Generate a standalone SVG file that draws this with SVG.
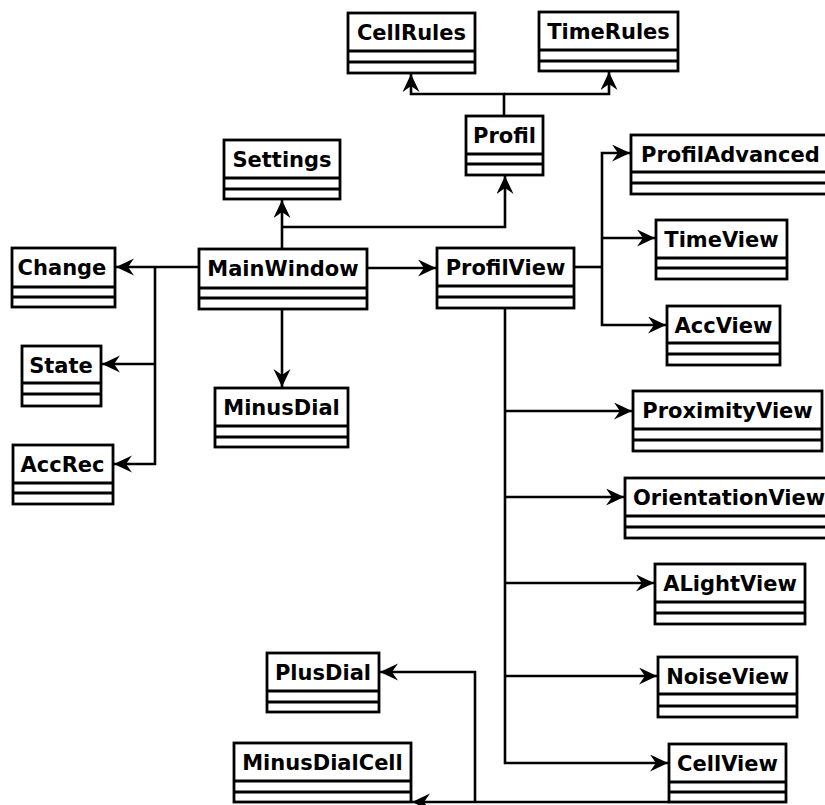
<svg xmlns="http://www.w3.org/2000/svg" width="825" height="805" viewBox="0 0 825 805">
<style>
.box{fill:#fff;stroke:#000;stroke-width:2.8}
.div{stroke:#000;stroke-width:2.8}
.lbl{font-family:"DejaVu Sans",sans-serif;font-weight:bold;font-size:21px;fill:#000;text-anchor:middle}
.lbs{font-family:"DejaVu Sans",sans-serif;font-weight:bold;font-size:21px;fill:#000;text-anchor:start}
.c{fill:none;stroke:#000;stroke-width:2.6}
.a{marker-end:url(#arr)}
</style>
<defs>
<marker id="arr" markerUnits="userSpaceOnUse" markerWidth="20" markerHeight="18" refX="18" refY="8.5" orient="auto">
<path d="M0,0 L18,8.5 L0,17 L6,8.5 z" fill="#000"/>
</marker>
</defs>
<rect width="825" height="805" fill="#fff"/>
<g id="connectors">
<path class="c a" d="M504,116 V94 H411 V74"/>
<path class="c a" d="M504,94 H609 V72"/>
<path class="c a" d="M282,249 V200"/>
<path class="c a" d="M282,227 H505 V176"/>
<path class="c a" d="M199,267 H116"/>
<path class="c a" d="M155,267 V464 H114"/>
<path class="c a" d="M155,364 H102"/>
<path class="c a" d="M282,309 V387"/>
<path class="c a" d="M367,268 H436"/>
<path class="c" d="M574,267 H602"/>
<path class="c a" d="M602,238 V153 H630"/>
<path class="c a" d="M602,238 H655"/>
<path class="c a" d="M602,238 V325 H666"/>
<path class="c a" d="M505,308 V763 H668"/>
<path class="c a" d="M505,411 H632"/>
<path class="c a" d="M505,497 H624"/>
<path class="c a" d="M505,583 H654"/>
<path class="c a" d="M505,676 H657"/>
<path class="c a" d="M669,802 H412"/>
<path class="c a" d="M475,802 V672 H380"/>
</g>
<g id="CellRules"><rect class="box" x="348" y="13" width="127" height="60"/><line class="div" x1="348" y1="51" x2="475" y2="51"/><line class="div" x1="348" y1="62" x2="475" y2="62"/><text class="lbl" x="411.5" y="39.5">CellRules</text></g>
<g id="TimeRules"><rect class="box" x="539" y="12" width="139" height="59"/><line class="div" x1="539" y1="50" x2="678" y2="50"/><line class="div" x1="539" y1="61" x2="678" y2="61"/><text class="lbl" x="608.5" y="38.5">TimeRules</text></g>
<g id="Profil"><rect class="box" x="466" y="116" width="77" height="59"/><line class="div" x1="466" y1="154" x2="543" y2="154"/><line class="div" x1="466" y1="164" x2="543" y2="164"/><text class="lbl" x="504.5" y="142.5">Profil</text></g>
<g id="Settings"><rect class="box" x="224" y="140" width="116" height="59"/><line class="div" x1="224" y1="178" x2="340" y2="178"/><line class="div" x1="224" y1="189" x2="340" y2="189"/><text class="lbl" x="282" y="166.5">Settings</text></g>
<g id="Change"><rect class="box" x="12" y="248" width="103" height="59"/><line class="div" x1="12" y1="287" x2="115" y2="287"/><line class="div" x1="12" y1="297" x2="115" y2="297"/><text class="lbl" x="62" y="274.5">Change</text></g>
<g id="MainWindow"><rect class="box" x="199" y="249" width="168" height="60"/><line class="div" x1="199" y1="288" x2="367" y2="288"/><line class="div" x1="199" y1="298" x2="367" y2="298"/><text class="lbl" x="283" y="275.5">MainWindow</text></g>
<g id="ProfilView"><rect class="box" x="437" y="248" width="137" height="60"/><line class="div" x1="437" y1="286" x2="574" y2="286"/><line class="div" x1="437" y1="297" x2="574" y2="297"/><text class="lbl" x="505.5" y="274.5">ProfilView</text></g>
<g id="ProfilAdvanced"><rect class="box" x="631" y="135" width="200" height="59"/><line class="div" x1="631" y1="172" x2="831" y2="172"/><line class="div" x1="631" y1="183" x2="831" y2="183"/><text class="lbs" x="641" y="161.5">ProfilAdvanced</text></g>
<g id="TimeView"><rect class="box" x="656" y="220" width="131" height="59"/><line class="div" x1="656" y1="258" x2="787" y2="258"/><line class="div" x1="656" y1="268" x2="787" y2="268"/><text class="lbl" x="721.5" y="246.5">TimeView</text></g>
<g id="AccView"><rect class="box" x="667" y="306" width="113" height="59"/><line class="div" x1="667" y1="343" x2="780" y2="343"/><line class="div" x1="667" y1="354" x2="780" y2="354"/><text class="lbl" x="723.5" y="332.5">AccView</text></g>
<g id="State"><rect class="box" x="22" y="346" width="79" height="60"/><line class="div" x1="22" y1="383" x2="101" y2="383"/><line class="div" x1="22" y1="394" x2="101" y2="394"/><text class="lbl" x="61" y="372.5">State</text></g>
<g id="MinusDial"><rect class="box" x="215" y="388" width="133" height="59"/><line class="div" x1="215" y1="426" x2="348" y2="426"/><line class="div" x1="215" y1="437" x2="348" y2="437"/><text class="lbl" x="281.5" y="414.5">MinusDial</text></g>
<g id="AccRec"><rect class="box" x="13" y="445" width="100" height="59"/><line class="div" x1="13" y1="483" x2="113" y2="483"/><line class="div" x1="13" y1="493" x2="113" y2="493"/><text class="lbl" x="62.5" y="471.5">AccRec</text></g>
<g id="ProximityView"><rect class="box" x="633" y="391" width="189" height="60"/><line class="div" x1="633" y1="429" x2="822" y2="429"/><line class="div" x1="633" y1="440" x2="822" y2="440"/><text class="lbl" x="727.5" y="417.5">ProximityView</text></g>
<g id="OrientationView"><rect class="box" x="625" y="478" width="206" height="60"/><line class="div" x1="625" y1="516" x2="831" y2="516"/><line class="div" x1="625" y1="527" x2="831" y2="527"/><text class="lbs" x="633" y="504.5">OrientationView</text></g>
<g id="ALightView"><rect class="box" x="655" y="564" width="150" height="60"/><line class="div" x1="655" y1="602" x2="805" y2="602"/><line class="div" x1="655" y1="613" x2="805" y2="613"/><text class="lbl" x="730" y="590.5">ALightView</text></g>
<g id="PlusDial"><rect class="box" x="267" y="653" width="112" height="59"/><line class="div" x1="267" y1="691" x2="379" y2="691"/><line class="div" x1="267" y1="702" x2="379" y2="702"/><text class="lbl" x="323" y="679.5">PlusDial</text></g>
<g id="NoiseView"><rect class="box" x="658" y="657" width="139" height="60"/><line class="div" x1="658" y1="694" x2="797" y2="694"/><line class="div" x1="658" y1="706" x2="797" y2="706"/><text class="lbl" x="727.5" y="683.5">NoiseView</text></g>
<g id="MinusDialCell"><rect class="box" x="234" y="743" width="177" height="59"/><line class="div" x1="234" y1="781" x2="411" y2="781"/><line class="div" x1="234" y1="792" x2="411" y2="792"/><text class="lbl" x="322.5" y="769.5">MinusDialCell</text></g>
<g id="CellView"><rect class="box" x="669" y="744" width="117" height="58"/><line class="div" x1="669" y1="782" x2="786" y2="782"/><line class="div" x1="669" y1="792" x2="786" y2="792"/><text class="lbl" x="727.5" y="770.5">CellView</text></g>
</svg>
